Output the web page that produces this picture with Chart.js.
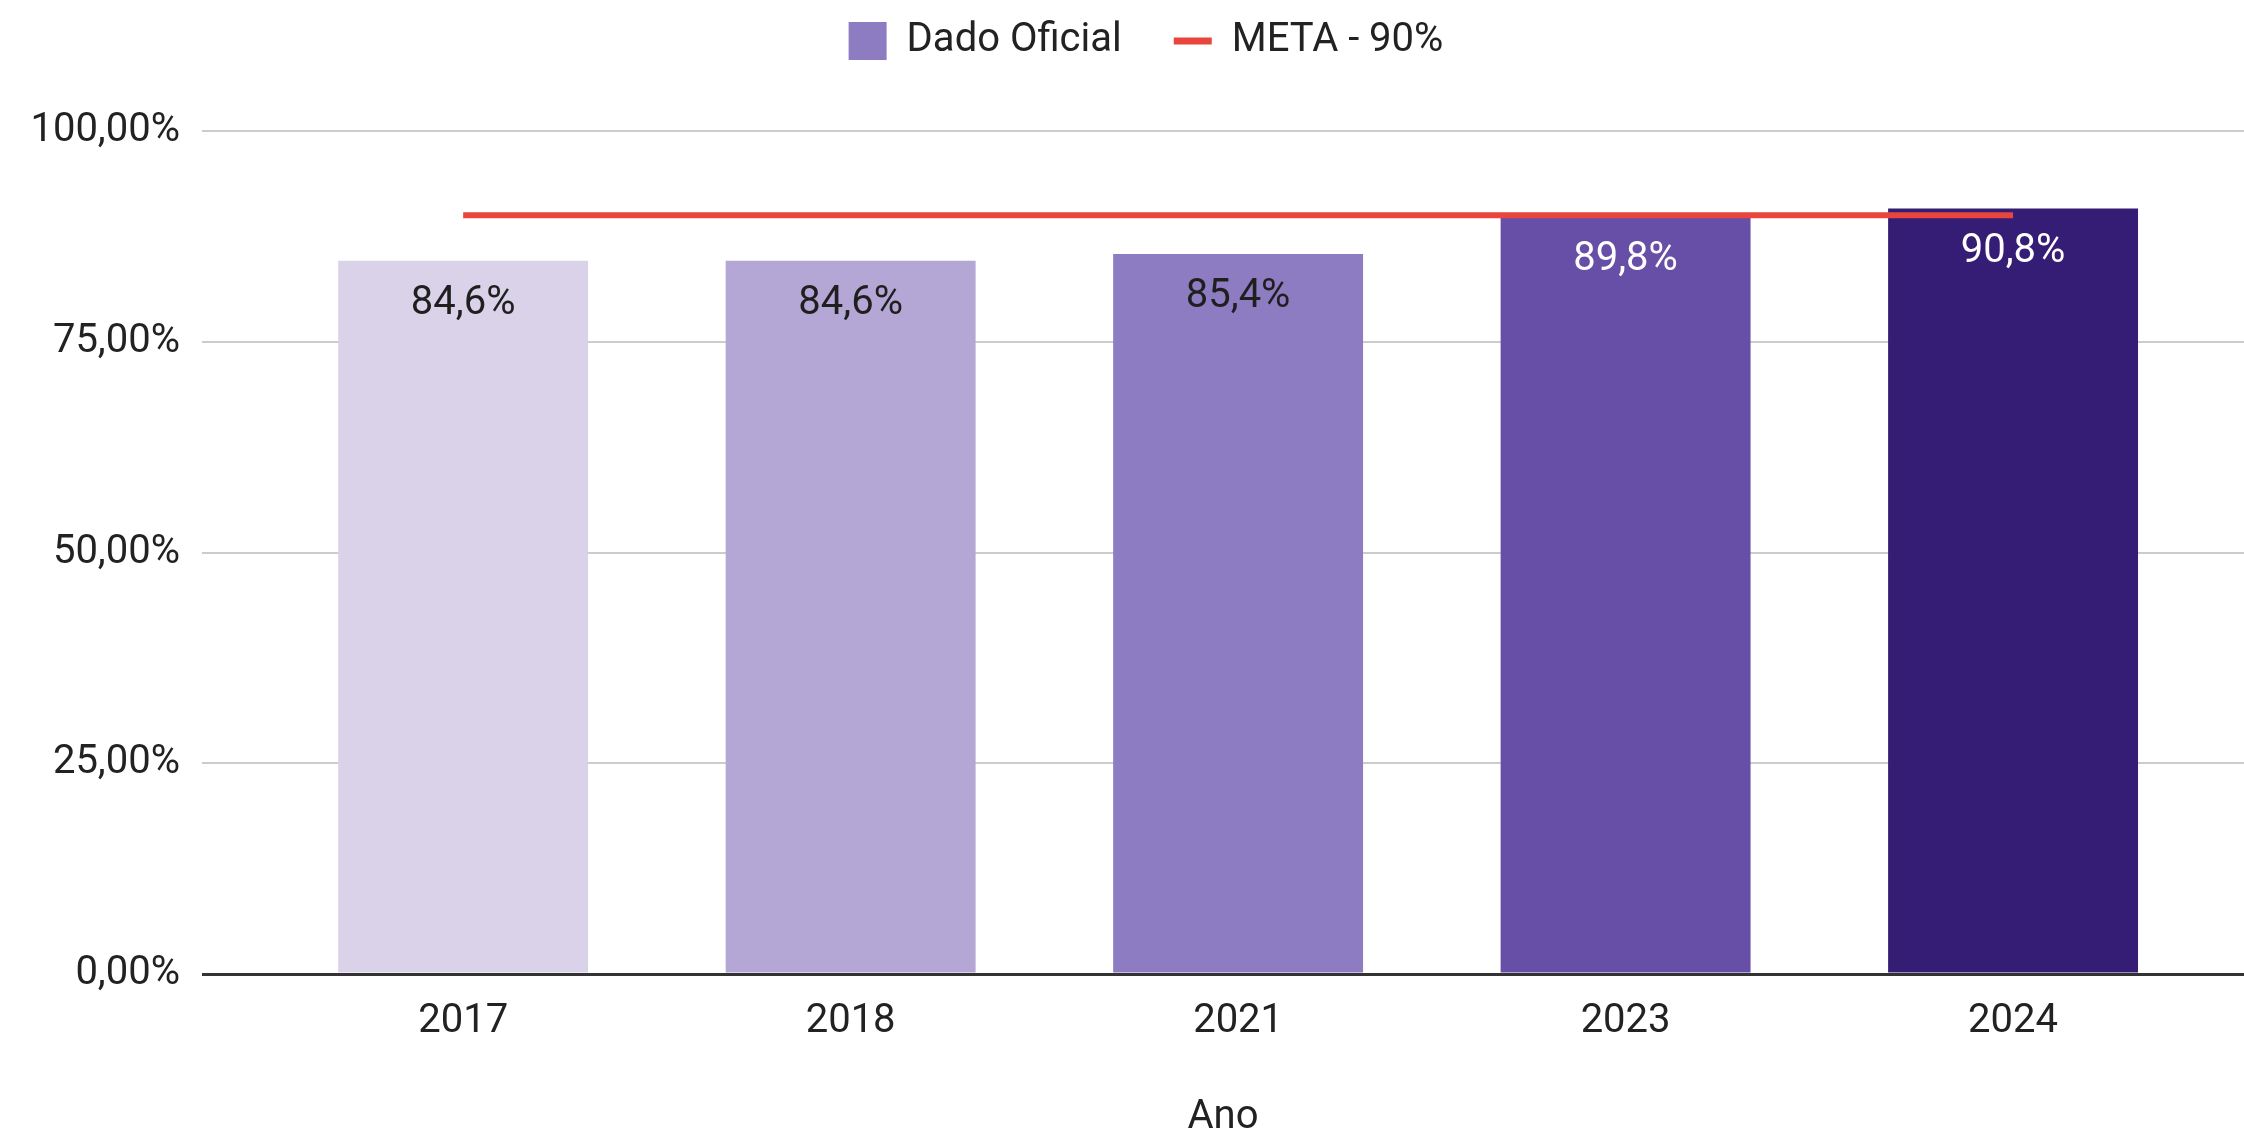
<!DOCTYPE html>
<html><head><meta charset="utf-8">
<script src="https://cdn.jsdelivr.net/npm/chart.js@4.4.0/dist/chart.umd.min.js"></script>
<style>html,body{margin:0;padding:0;background:#fff;overflow:hidden}</style>
</head><body>
<canvas id="c" width="2244" height="1133"></canvas>
<script>
const years = ['2017', '2018', '2021', '2023', '2024'];
const dadoOficial = [84.6, 84.6, 85.4, 89.8, 90.8];
const meta = [90, 90, 90, 90, 90];
const yTicks = [0, 25, 50, 75, 100];
const barColors = ['#d9d2e9', '#b4a7d6', '#8e7cc3', '#674ea7', '#351c75'];
const labelColors = ['#1f1f1f', '#1f1f1f', '#1f1f1f', '#ffffff', '#ffffff'];

const FONT = 'Roboto';
const FS = 40;
const TEXT = '#222222';
const fmt = (v, d) => v.toFixed(d).replace('.', ',') + '%';

const valueLabels = {
  id: 'valueLabels',
  afterDatasetsDraw(chart) {
    const m = chart.getDatasetMeta(0);
    const ctx = chart.ctx;
    ctx.save();
    ctx.font = FS + 'px ' + FONT;
    ctx.textAlign = 'center';
    ctx.textBaseline = 'middle';
    m.data.forEach((bar, i) => {
      ctx.fillStyle = labelColors[i];
      ctx.fillText(fmt(dadoOficial[i], 1), bar.x, bar.y + 43);
    });
    ctx.restore();
  }
};

const legendFit = {
  id: 'legendFit',
  beforeLayout(chart) {
    const lg = chart.legend;
    if (lg && !lg._patched) {
      const orig = lg.fit;
      lg.fit = function () { orig.call(this); this.height = 162; };
      lg._patched = true;
    }
  },
  afterLayout(chart) {
    const lg = chart.legend;
    if (lg) { lg.left += 24; lg.right += 24; }
  }
};

new Chart(document.getElementById('c'), {
  type: 'bar',
  data: {
    datasets: [
      {
        label: 'Dado Oficial',
        data: dadoOficial.map((v, i) => ({ x: i, y: v })),
        backgroundColor: barColors,
        borderWidth: 0,
        categoryPercentage: 1,
        barPercentage: 0.645,
        order: 1
      },
      {
        type: 'line',
        label: 'META - 90%',
        data: meta.map((v, i) => ({ x: i, y: v })),
        borderColor: '#e8453c',
        backgroundColor: '#e8453c',
        borderWidth: 6,
        pointRadius: 0,
        tension: 0,
        order: 0
      }
    ]
  },
  options: {
    responsive: false,
    animation: false,
    devicePixelRatio: 1,
    layout: { padding: { top: -31, left: 0, right: 0, bottom: -5 } },
    plugins: {
      tooltip: { enabled: false },
      legend: {
        position: 'top',
        labels: {
          usePointStyle: true,
          pointStyleWidth: 38,
          boxHeight: 38,
          padding: 52,
          color: TEXT,
          font: { family: FONT, size: FS },
          generateLabels() {
            return [
              { text: 'Dado Oficial', fillStyle: '#8e7cc3', strokeStyle: '#8e7cc3', lineWidth: 0, pointStyle: 'rect', datasetIndex: 0, fontColor: TEXT },
              { text: 'META - 90%', fillStyle: '#e8453c', strokeStyle: '#e8453c', lineWidth: 7, pointStyle: 'line', datasetIndex: 1, fontColor: TEXT }
            ];
          }
        }
      }
    },
    scales: {
      x: {
        type: 'linear',
        offset: false,
        min: -0.674,
        max: 4.596,
        grid: { display: false, drawTicks: false },
        border: { display: false },
        afterBuildTicks(s) { s.ticks = years.map((_, i) => ({ value: i })); },
        afterFit(s) { s.height = 164; },
        ticks: {
          padding: 24,
          color: TEXT,
          font: { family: FONT, size: FS },
          maxRotation: 0,
          autoSkip: false,
          callback: (v) => years[v] ?? ''
        },
        title: {
          display: true,
          text: 'Ano',
          color: TEXT,
          font: { family: FONT, size: FS, lineHeight: 1 },
          padding: { top: 0, bottom: 0 }
        }
      },
      y: {
        min: yTicks[0],
        max: yTicks[yTicks.length - 1],
        afterBuildTicks(s) { s.ticks = yTicks.map(v => ({ value: v })); },
        afterFit(s) { s.width = 202; },
        grid: {
          drawTicks: false,
          color: (c) => c.tick && c.tick.value === 0 ? '#333333' : '#cccccc',
          lineWidth: (c) => c.tick && c.tick.value === 0 ? 3 : 2
        },
        border: { display: false },
        ticks: {
          padding: 22,
          color: TEXT,
          font: { family: FONT, size: FS },
          callback: (v) => fmt(v, 2)
        }
      }
    }
  },
  plugins: [valueLabels, legendFit]
});
</script>
</body></html>
